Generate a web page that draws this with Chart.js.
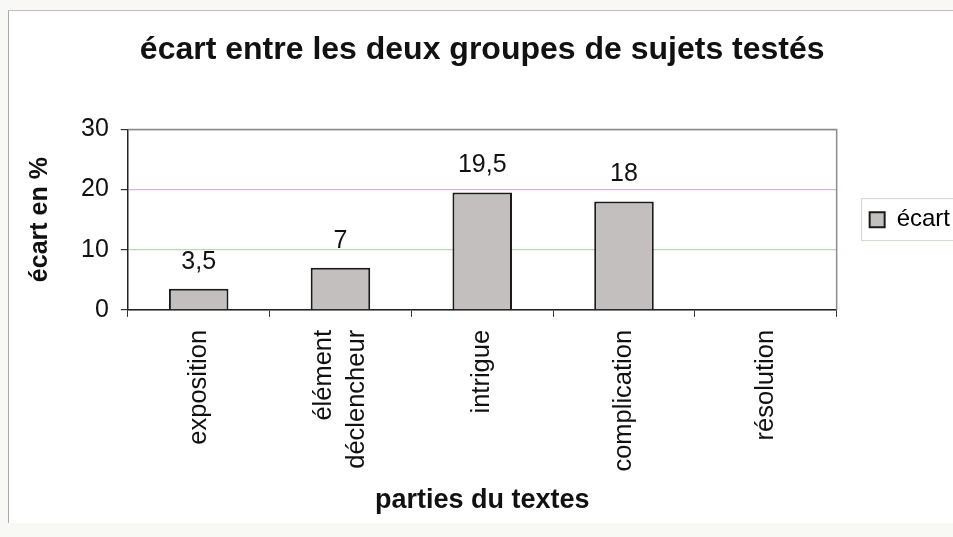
<!DOCTYPE html>
<html>
<head>
<meta charset="utf-8">
<script src="https://cdn.jsdelivr.net/npm/chart.js@4"></script>
<style>
  html, body { margin: 0; padding: 0; background: #fff; overflow: hidden; }
  #wrap { position: relative; width: 953px; height: 537px; overflow: hidden; background: #f8f8f5; }
  #cadre { position: absolute; left: 8px; top: 10px; width: 960px; height: 512px;
           border-top: 1px solid #d2b4d2; border-left: 1px solid #aaa; background: #fff; }
  #zone { position: absolute; left: 0; top: 0; width: 990px; height: 537px; }
</style>
</head>
<body>
<div id="wrap">
  <div id="cadre"></div>
  <div id="zone"><canvas id="graphique"></canvas></div>
</div>
<script>
// données ==============================================================

const parties = ["exposition", ["élément", "déclencheur"], "intrigue", "complication", "résolution"];
const ecarts = [3.5, 7, 19.5, 18, 0];
const graduations = [0, 10, 20, 30];

const police = "'Liberation Sans', Arial, sans-serif";

// étiquettes de valeurs au-dessus des barres
const etiquettes = {
  id: "etiquettes",
  afterDatasetsDraw(chart) {
    const ctx = chart.ctx;
    const meta = chart.getDatasetMeta(0);
    ctx.save();
    ctx.font = "25px " + police;
    ctx.fillStyle = "#111";
    ctx.textAlign = "center";
    ctx.textBaseline = "middle";
    meta.data.forEach((barre, i) => {
      const v = ecarts[i];
      if (!v) return;
      ctx.fillText(String(v).replace(".", ","), barre.x, barre.y - 27);
    });
    ctx.restore();
  },
};

// centre les libellés sur deux lignes autour de leur graduation
const centrage = {
  id: "centrage",
  beforeDraw(chart) {
    const sx = chart.scales.x;
    if (!sx.getLabelItems) return;
    sx.getLabelItems().forEach((it) => {
      if (Array.isArray(it.label) && it.label.length > 1) {
        it.textOffset -= ((it.label.length - 1) * it.font.lineHeight) / 2;
      }
    });
  },
};

// cadre du graphique et de la légende
const cadres = {
  id: "cadres",
  beforeDatasetsDraw(chart) {
    const { ctx, chartArea: a } = chart;
    ctx.save();
    ctx.strokeStyle = "#8c8c8c";
    ctx.lineWidth = 1.5;
    ctx.beginPath();
    ctx.moveTo(a.left, a.top);
    ctx.lineTo(a.right, a.top);
    ctx.lineTo(a.right, a.bottom);
    ctx.stroke();
    ctx.restore();
  },
  afterDraw(chart) {
    const lg = chart.legend;
    if (!lg || !lg.legendHitBoxes.length) return;
    const h = lg.legendHitBoxes[0];
    const ctx = chart.ctx;
    ctx.save();
    ctx.strokeStyle = "#c8d8c8";
    ctx.lineWidth = 1;
    ctx.strokeRect(h.left - 8, h.top - 9, h.width + 60, h.height + 18);
    ctx.restore();
  },
};

const data = {
  labels: parties,
  datasets: [
    {
      label: "écart",
      data: ecarts,
      backgroundColor: "#c3bfbf",
      borderColor: "#1a1a1a",
      borderWidth: 2,
      borderSkipped: "bottom",
      categoryPercentage: 1,
      barPercentage: 0.42,
    },
  ],
};

const config = {
  type: "bar",
  data: data,
  plugins: [etiquettes, centrage, cadres],
  options: {
    responsive: false,
    animation: false,
    devicePixelRatio: 1,
    layout: { padding: { left: 25, right: 30, top: 10, bottom: 20 } },
    plugins: {
      title: {
        display: true,
        fullSize: false,
        text: "écart entre les deux groupes de sujets testés",
        color: "#111",
        font: { family: police, size: 32, weight: "bold" },
        padding: { top: 21, bottom: 60 },
      },
      legend: {
        position: "right",
        align: "center",
        fullSize: false,
        labels: {
          color: "#111",
          font: { family: police, size: 24 },
          boxWidth: 15,
          boxHeight: 15,
          padding: 33,
          generateLabels: (chart) => [
            {
              text: "écart",
              fillStyle: "#c3bfbf",
              strokeStyle: "#1a1a1a",
              lineWidth: 2,
              datasetIndex: 0,
            },
          ],
        },
      },
      tooltip: { enabled: false },
    },
    scales: {
      x: {
        offset: true,
        grid: { display: true, drawOnChartArea: false, offset: true, tickLength: 7, color: "#333" },
        border: { color: "#222", width: 1.5 },
        ticks: {
          color: "#111",
          font: { family: police, size: 25.5, lineHeight: 1.3 },
          minRotation: 90,
          maxRotation: 90,
          padding: 13,
        },
        title: {
          display: true,
          text: "parties du textes",
          color: "#111",
          font: { family: police, size: 27, weight: "bold" },
          padding: { top: 0, bottom: 0 },
        },
      },
      y: {
        min: 0,
        max: 30,
        afterBuildTicks: (axis) => {
          axis.ticks = graduations.map((v) => ({ value: v }));
        },
        grid: {
          color: (c) => (c.tick && c.tick.value === 20 ? "#d6b6dc" : c.tick && c.tick.value === 10 ? "#b9d8b9" : "#8c8c8c"),
          lineWidth: 1.2,
          tickLength: 7,
          tickColor: "#333",
        },
        border: { color: "#222", width: 1.5 },
        ticks: {
          color: "#111",
          font: { family: police, size: 25 },
          padding: 12,
        },
        title: {
          display: true,
          text: "écart en %",
          color: "#111",
          font: { family: police, size: 25, weight: "bold" },
          padding: { top: 0, bottom: 14 },
        },
      },
    },
  },
};

const canvas = document.getElementById("graphique");
canvas.width = 990;
canvas.height = 537;
canvas.style.width = "990px";
canvas.style.height = "537px";

const graphique = new Chart(canvas, config);
</script>
</body>
</html>
